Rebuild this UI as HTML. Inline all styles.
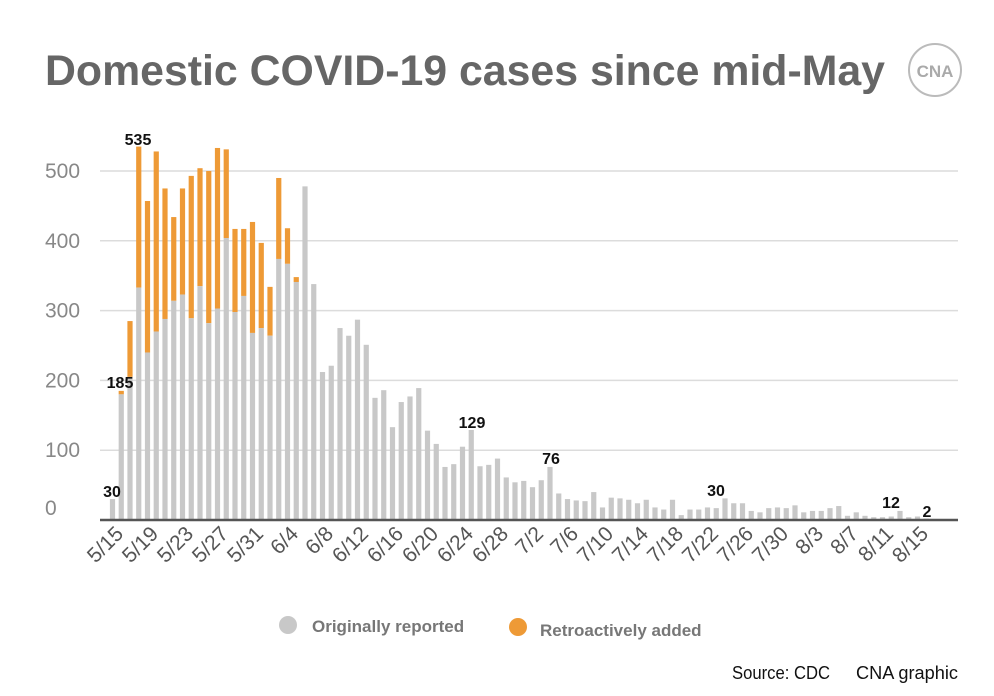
<!DOCTYPE html>
<html><head><meta charset="utf-8"><style>
html,body{margin:0;padding:0;background:#fff;}
svg{display:block;font-family:"Liberation Sans",sans-serif;}
</style></head><body>
<svg id="c" width="994" height="696" viewBox="0 0 994 696" xmlns="http://www.w3.org/2000/svg">
<rect width="994" height="696" fill="#fff"/>
<text x="45" y="85" font-size="43" font-weight="bold" fill="#666" textLength="840" lengthAdjust="spacingAndGlyphs">Domestic COVID-19 cases since mid-May</text>
<circle cx="935" cy="70" r="26" fill="none" stroke="#bbb" stroke-width="2"/>
<text x="935" y="77" font-size="17" font-weight="bold" fill="#aaa" text-anchor="middle">CNA</text>
<g id="grid" stroke="#dcdcdc" stroke-width="1.5"></g>
<g id="bars"></g>
<line x1="100" y1="520" x2="958" y2="520" stroke="#555" stroke-width="2.5"/>
<g id="ylab" font-size="21" fill="#888"></g>
<g id="xlab" font-size="21" fill="#555"></g>
<g font-size="16" font-weight="bold" fill="#111" text-anchor="middle">
<text x="138" y="145">535</text>
<text x="120" y="388">185</text>
<text x="112" y="497">30</text>
<text x="472" y="428">129</text>
<text x="551" y="464">76</text>
<text x="716" y="496">30</text>
<text x="891" y="508">12</text>
<text x="927" y="517">2</text>
</g>
<circle cx="288" cy="625" r="9" fill="#c8c8c8"/>
<text x="312" y="632" font-size="17" font-weight="bold" fill="#777">Originally reported</text>
<circle cx="518" cy="627" r="9" fill="#ee9a36"/>
<text x="540" y="636" font-size="17" font-weight="bold" fill="#777">Retroactively added</text>
<text x="732" y="679" font-size="18" fill="#111" textLength="98" lengthAdjust="spacingAndGlyphs">Source: CDC</text>
<text x="856" y="679" font-size="18" fill="#111" textLength="102" lengthAdjust="spacingAndGlyphs">CNA graphic</text>
</svg>
<script>
var ns="http://www.w3.org/2000/svg";
function el(p,t,a,txt){var e=document.createElementNS(ns,t);for(var k in a)e.setAttribute(k,a[k]);if(txt!=null)e.textContent=txt;document.getElementById(p).appendChild(e);}
var s=0.698,base=520;
for(var v=100;v<=500;v+=100){el("grid","line",{x1:100,x2:958,y1:base-v*s,y2:base-v*s});el("ylab","text",{x:45,y:base-v*s+7},v);}
el("ylab","text",{x:45,y:515},"0");
var g=[30,180,205,333,240,270,288,314,323,289,335,282,303,404,298,321,268,275,264,374,367,341,478,338,212,221,275,264,287,251,175,186,133,169,177,189,128,109,76,80,105,129,77,79,88,61,54,56,47,57,76,38,30,28,27,40,18,32,31,29,24,29,18,15,29,7,15,15,18,17,31,24,24,13,11,17,18,17,21,11,13,13,17,20,6,11,6,4,4,5,13,4,5,2];
var t=[0,185,285,535,457,528,475,434,475,493,504,500,533,531,417,417,427,397,334,490,418,348];
var m=5,d=15;
for(var i=0;i<g.length;i++){
 var x=112.5+i*8.75;
 if(i<t.length&&t[i]>g[i]){el("bars","rect",{x:x-2.6,y:base-t[i]*s,width:5.2,height:(t[i]-g[i])*s,fill:"#ee9a36"});}
 el("bars","rect",{x:x-2.6,y:base-g[i]*s,width:5.2,height:g[i]*s,fill:"#c8c8c8"});
 if(i%4==0){var tx=x+12,ty=535;el("xlab","text",{x:tx,y:ty,"text-anchor":"end",transform:"rotate(-45 "+tx+" "+ty+")"},m+"/"+d);}
 d++;var dim=(m==6)?30:31;if(d>dim){d=1;m++;}
}
</script>
</body></html>
